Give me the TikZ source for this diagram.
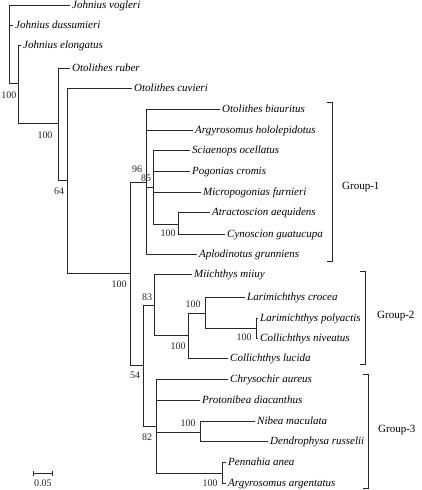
\documentclass[tikz,border=0pt]{standalone}
\usepackage{fontspec}
\setmainfont{Liberation Serif}
\usetikzlibrary{arrows.meta}
\begin{document}
\begin{tikzpicture}[x=1pt,y=-1pt,
  br/.style={draw=black!85,line width=0.8pt},
  leaf/.style={anchor=west,inner sep=2pt,font=\fontsize{11}{12}\selectfont\itshape,text height=8pt,text depth=2pt},
  bs/.style={inner sep=0pt,font=\fontsize{10}{11}\selectfont,text=black!85},
  grp/.style={anchor=west,inner sep=0pt,font=\fontsize{11}{12}\selectfont}]
\useasboundingbox[fill=white] (0,0) rectangle (421,490);
% leaves
\node[leaf] (t1) at (70,5.5) {Johnius vogleri};
\node[leaf] (t2) at (13,25) {Johnius dussumieri};
\node[leaf] (t3) at (21,45) {Johnius elongatus};
\node[leaf] (t4) at (70,68) {Otolithes ruber};
\node[leaf] (t5) at (132,88) {Otolithes cuvieri};
\node[leaf] (t6) at (220,109) {Otolithes biauritus};
\node[leaf] (t7) at (193,130) {Argyrosomus hololepidotus};
\node[leaf] (t8) at (190,150) {Sciaenops ocellatus};
\node[leaf] (t9) at (190,171) {Pogonias cromis};
\node[leaf] (t10) at (201,192) {Micropogonias furnieri};
\node[leaf] (t11) at (210,212) {Atractoscion aequidens};
\node[leaf] (t12) at (225,234) {Cynoscion guatucupa};
\node[leaf] (t13) at (197,254) {Aplodinotus grunniens};
\node[leaf] (t14) at (192,274) {Miichthys miiuy};
\node[leaf] (t15) at (245,297) {Larimichthys crocea};
\node[leaf] (t16) at (258,318) {Larimichthys polyactis};
\node[leaf] (t17) at (258,338) {Collichthys niveatus};
\node[leaf] (t18) at (228,358) {Collichthys lucida};
\node[leaf] (t19) at (228,379) {Chrysochir aureus};
\node[leaf] (t20) at (200,400) {Protonibea diacanthus};
\node[leaf] (t21) at (255,421) {Nibea maculata};
\node[leaf] (t22) at (268,441) {Dendrophysa russelii};
\node[leaf] (t23) at (226,462) {Pennahia anea};
\node[leaf] (t24) at (226,483) {Argyrosomus argentatus};
% internal nodes
\coordinate (R0) at (9,83);
\coordinate (A) at (18,83);
\coordinate (B) at (58,123);
\coordinate (C) at (67,180);
\coordinate (D) at (130,273);
\coordinate (G1) at (146,182);
\coordinate (F) at (153,187);
\coordinate (H) at (178,224);
\coordinate (E) at (143,365);
\coordinate (I) at (154,305);
\coordinate (K) at (188,335);
\coordinate (L) at (205,313);
\coordinate (M) at (256,328);
\coordinate (J) at (156,426);
\coordinate (N) at (200,432);
\coordinate (P) at (222,473);
% branches
\draw[br] (R0) |- (t1.west);
\draw[br] (R0) |- (t2.west);
\draw[br] (R0) -- (A);
\draw[br] (A) |- (t3.west);
\draw[br] (A) |- (B);
\draw[br] (B) |- (t4.west);
\draw[br] (B) |- (C);
\draw[br] (C) |- (t5.west);
\draw[br] (C) |- (D);
\draw[br] (D) |- (G1);
\draw[br] (D) |- (E);
\draw[br] (G1) |- (t6.west);
\draw[br] (G1) |- (t7.west);
\draw[br] (G1) |- (F);
\draw[br] (G1) |- (t13.west);
\draw[br] (F) |- (t8.west);
\draw[br] (F) |- (t9.west);
\draw[br] (F) |- (t10.west);
\draw[br] (F) |- (H);
\draw[br] (H) |- (t11.west);
\draw[br] (H) |- (t12.west);
\draw[br] (E) |- (I);
\draw[br] (E) |- (J);
\draw[br] (I) |- (t14.west);
\draw[br] (I) |- (K);
\draw[br] (K) |- (L);
\draw[br] (K) |- (t18.west);
\draw[br] (L) |- (t15.west);
\draw[br] (L) |- (M);
\draw[br] (M) |- (t16.west);
\draw[br] (M) |- (t17.west);
\draw[br] (J) |- (t19.west);
\draw[br] (J) |- (t20.west);
\draw[br] (J) |- (N);
\draw[br] (J) |- (P);
\draw[br] (N) |- (t21.west);
\draw[br] (N) |- (t22.west);
\draw[br] (P) |- (t23.west);
\draw[br] (P) |- (t24.west);
% bootstrap values
\node[bs] (b1) at (9,95) {100};
\node[bs] (b2) at (45,135) {100};
\node[bs] (b3) at (59,191) {64};
\node[bs] (b4) at (119,284) {100};
\node[bs] (b5) at (137,169) {96};
\node[bs] (b6) at (146,178) {85};
\node[bs] (b7) at (168,233) {100};
\node[bs] (b8) at (135,375) {54};
\node[bs] (b9) at (147,297) {83};
\node[bs] (b10) at (178,346) {100};
\node[bs] (b11) at (193,304) {100};
\node[bs] (b12) at (244,337) {100};
\node[bs] (b13) at (147,437) {82};
\node[bs] (b14) at (188,423) {100};
\node[bs] (b15) at (210,483) {100};
% group brackets
\coordinate (g1a) at (327,102); \coordinate (g1b) at (332,102);
\coordinate (g1c) at (332,261); \coordinate (g1d) at (327,261);
\draw[br] (g1a) -- (g1b) -- (g1c) -- (g1d);
\node[grp] (G1lab) at (342,187) {Group-1};
\coordinate (g2a) at (360,271); \coordinate (g2b) at (365,271);
\coordinate (g2c) at (365,364); \coordinate (g2d) at (360,364);
\draw[br] (g2a) -- (g2b) -- (g2c) -- (g2d);
\node[grp] (G2lab) at (377,316) {Group-2};
\coordinate (g3a) at (363,374); \coordinate (g3b) at (368,374);
\coordinate (g3c) at (368,488); \coordinate (g3d) at (363,488);
\draw[br] (g3a) -- (g3b) -- (g3c) -- (g3d);
\node[grp] (G3lab) at (378,430) {Group-3};
% scale bar
\coordinate (sb1) at (33,473); \coordinate (sb2) at (53,473);
\draw[br,{Bar[width=5pt]}-{Bar[width=5pt]}] (sb1) -- (sb2);
\node[bs] (sbl) at (43,483) {0.05};
\end{tikzpicture}
\end{document}
